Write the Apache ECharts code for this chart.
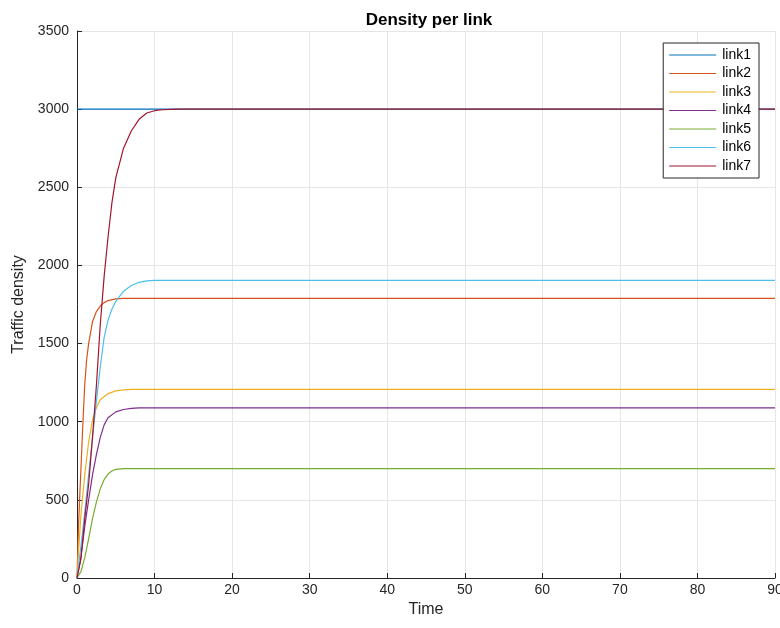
<!DOCTYPE html>
<html>
<head>
<meta charset="utf-8">
<script src="https://cdn.jsdelivr.net/npm/echarts@6/dist/echarts.min.js"></script>
<style>
  html, body { margin: 0; padding: 0; background: #fff; }
  #chart { width: 780px; height: 628px; }
</style>
</head>
<body>
<div id="chart"></div>
<script>
// values
let linkNames = ['link1','link2','link3','link4','link5','link6','link7'];
let linkColors = ['#0072BD','#D95319','#EDB120','#7E2F8E','#77AC30','#4DBEEE','#A2142F'];

let t1 = [0, 90];
let v1 = [3000, 3000];

let t2 = [0, 0.1, 0.2, 0.35, 0.5, 0.75, 1, 1.25, 1.5, 2, 2.5, 3, 3.5, 4, 5, 6, 90];
let v2 = [0, 170, 340, 520, 690, 980, 1240, 1400, 1500, 1640, 1705, 1740, 1762, 1775, 1786, 1789, 1789];

let t3 = [0, 0.2, 0.5, 1, 1.5, 2, 2.5, 3, 4, 5, 6, 7, 90];
let v3 = [0, 170, 400, 660, 870, 1010, 1090, 1140, 1180, 1197, 1204, 1207, 1207];

let t4 = [0, 0.5, 1, 1.5, 2, 2.5, 3, 3.5, 4, 5, 6, 7, 8, 90];
let v4 = [0, 130, 330, 500, 660, 790, 900, 980, 1025, 1063, 1078, 1085, 1088, 1088];

let t5 = [0, 0.5, 1, 1.5, 2, 2.5, 3, 3.5, 4, 4.5, 5, 6, 90];
let v5 = [0, 40, 130, 250, 380, 485, 570, 630, 665, 685, 695, 700, 700];

let t6 = [0, 0.5, 1, 1.5, 2, 2.5, 3, 3.5, 4, 4.5, 5, 6, 7, 8, 9, 10, 12, 90];
let v6 = [0, 200, 420, 660, 900, 1130, 1350, 1540, 1650, 1720, 1770, 1835, 1872, 1892, 1901, 1904, 1905, 1905];

let t7 = [0, 0.5, 1, 1.5, 2, 2.5, 3, 3.5, 4, 4.5, 5, 6, 7, 8, 9, 10, 11, 13, 90];
let v7 = [0, 120, 380, 600, 900, 1230, 1620, 1930, 2180, 2400, 2560, 2750, 2860, 2935, 2975, 2990, 2996, 3000, 3000];

let times = [t1, t2, t3, t4, t5, t6, t7];
let values = [v1, v2, v3, v4, v5, v6, v7];

let xTicks = [0, 90, 10];
let yTicks = [0, 3500, 500];

let myChart = echarts.init(document.getElementById('chart'));
let txt = '#262626';
let font = 'Liberation Sans';

myChart.setOption({
    animation: false,
    backgroundColor: '#fff',
    title: {
        text: 'Density per link',
        left: 424,
        textAlign: 'center',
        top: 7,
        textStyle: { fontFamily: font, fontSize: 17, fontWeight: 'bold', color: '#000' }
    },
    legend: {
        data: linkNames,
        orient: 'vertical',
        right: 21,
        top: 43,
        icon: 'rect',
        itemWidth: 47,
        itemHeight: 1,
        itemGap: 4.5,
        padding: [5, 8, 5, 6],
        borderColor: txt,
        borderWidth: 1,
        borderRadius: 0,
        backgroundColor: '#fff',
        textStyle: { fontFamily: font, fontSize: 14, lineHeight: 14, color: '#000', padding: [0, 0, 0, 1] }
    },
    grid: { left: 77, right: 5, top: 31, bottom: 50, containLabel: false, outerBoundsMode: 'none' },
    xAxis: {
        type: 'value',
        min: xTicks[0], max: xTicks[1], interval: xTicks[2],
        name: 'Time',
        nameLocation: 'middle',
        nameGap: 20,
        nameTextStyle: { fontFamily: font, fontSize: 16, color: txt },
        axisLine: { lineStyle: { color: txt, width: 1 } },
        axisTick: { inside: true, length: 5, lineStyle: { color: txt } },
        axisLabel: { fontFamily: font, fontSize: 14, color: txt, margin: 5 },
        splitLine: { show: true, lineStyle: { color: '#e6e6e6', width: 1 } }
    },
    yAxis: {
        type: 'value',
        min: yTicks[0], max: yTicks[1], interval: yTicks[2],
        name: 'Traffic density',
        nameLocation: 'middle',
        nameGap: 40,
        nameTextStyle: { fontFamily: font, fontSize: 16, color: txt },
        axisLine: { show: true, lineStyle: { color: txt, width: 1 } },
        axisTick: { show: true, inside: true, length: 5, lineStyle: { color: txt } },
        axisLabel: { fontFamily: font, fontSize: 14, color: txt, margin: 8, formatter: v => String(v) },
        splitLine: { show: true, lineStyle: { color: '#e6e6e6', width: 1 } }
    },
    series: linkNames.map((name, i) => ({
        name: name,
        type: 'line',
        symbol: 'none',
        color: linkColors[i],
        lineStyle: { width: 1.2, color: linkColors[i] },
        data: times[i].map((t, j) => [t, values[i][j]])
    }))
});
</script>
</body>
</html>
